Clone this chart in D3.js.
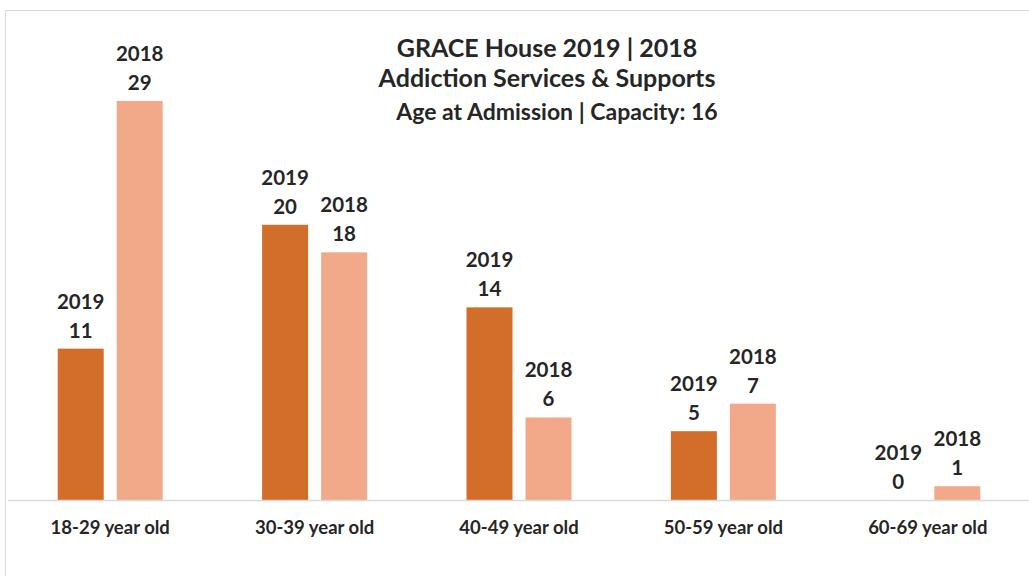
<!DOCTYPE html>
<html><head><meta charset="utf-8">
<script src="https://cdn.jsdelivr.net/npm/d3@7"></script>
<style>
html,body{margin:0;padding:0;background:#fff;}
svg{display:block;font-family:Lato,"Open Sans",sans-serif;font-weight:700;}
</style></head>
<body><svg id="chart" width="1029" height="576"></svg>
<script>
const categories = ["18-29 year old","30-39 year old","40-49 year old","50-59 year old","60-69 year old"];
const seriesNames = ["2019","2018"];
const values2019 = [11,20,14,5,0];
const values2018 = [29,18,6,7,1];
const titleLines = ["GRACE House 2019 | 2018","Addiction Services & Supports"];
const subtitle = "Age at Admission | Capacity: 16";
const colors = ["#D26D2A","#F2A98A"];

const svg = d3.select("#chart");
svg.append("rect").attr("x",5.5).attr("y",10.5).attr("width",1100).attr("height",700)
  .attr("fill","#fff").attr("stroke","#D9D9D9").attr("stroke-width",1);

const x = d3.scaleBand().domain(categories).range([8,1030]).paddingInner(0).paddingOuter(0);
const y = d3.scaleLinear().domain([0,35]).range([500,500-35*13.76]);
const barW = 46, gap = 13;
const xs = d3.scaleOrdinal().domain(seriesNames).range([-gap/2-barW, gap/2]);

const data = [];
categories.forEach((c,i)=>{
  data.push({cat:c, s:"2019", v:values2019[i], color:colors[0]});
  data.push({cat:c, s:"2018", v:values2018[i], color:colors[1]});
});

const cx = d => x(d.cat)+x.bandwidth()/2;
svg.append("g").selectAll("rect").data(data).join("rect")
  .attr("x", d=>cx(d)+xs(d.s)).attr("width", barW)
  .attr("y", d=>y(d.v)).attr("height", d=>y(0)-y(d.v))
  .attr("fill", d=>d.color);

// axis line
const xAxis = d3.axisBottom(x).tickSize(0).tickPadding(0);
const ax = svg.append("g").attr("transform","translate(0,500)").call(xAxis);
ax.select(".domain").attr("stroke","#D9D9D9").attr("stroke-width",1.5).attr("d","M8,0.5H1029");
ax.selectAll("text").attr("dy",null).attr("y",34).attr("fill","#262626")
  .style("font-family","Lato, sans-serif").style("font-weight","700").style("font-size","18.5px");

// labels
const lab = svg.append("g").selectAll("g").data(data).join("g")
  .attr("transform", d=>`translate(${cx(d)+xs(d.s)+barW/2},${y(d.v)})`);
lab.append("text").attr("y",-40).attr("text-anchor","middle").attr("fill","#262626")
  .style("font-size","20.5px").text(d=>d.s);
lab.append("text").attr("y",-11).attr("text-anchor","middle").attr("fill","#262626")
  .style("font-size","20.5px").text(d=>d.v);

// title
svg.append("g").selectAll("text").data(titleLines).join("text")
  .attr("x",547).attr("y",(d,i)=>57+i*30).attr("text-anchor","middle").attr("fill","#262626")
  .style("font-size","25px").text(d=>d);
svg.append("text").attr("x",557).attr("y",120).attr("text-anchor","middle").attr("fill","#262626")
  .style("font-size","23px").text(subtitle);
</script></body></html>
